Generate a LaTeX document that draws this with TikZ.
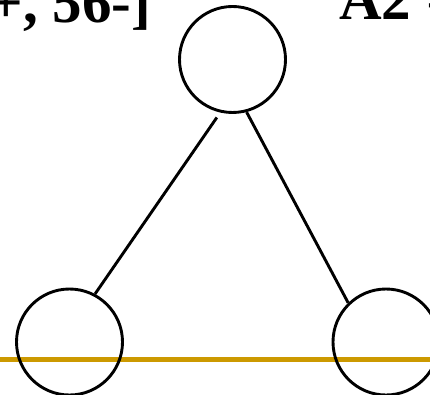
\documentclass[tikz,border=0pt]{standalone}
\usepackage{fontspec}
\setmainfont{Liberation Serif}
\usepackage{xcolor}
\definecolor{gold}{RGB}{204,153,0}

\begin{document}
\begin{tikzpicture}[x=1pt,y=-1pt,
vertex/.style={circle,draw,line width=2.9pt,minimum size=106pt,inner sep=0pt},
edge/.style={line width=2.9pt},
lbl/.style={anchor=base west,inner sep=0pt,font=\bfseries\fontsize{59}{62}\selectfont}]
\useasboundingbox(0,0) rectangle (430,395);
\clip(0,0) rectangle (430,395);
\coordinate(floorL) at (0,359.7);
\coordinate(floorR) at (430,359.7);
\draw[line width=4.5pt,gold](floorL)--(floorR);
\node[vertex](top) at (232.5,59.5){};
\node[vertex](left) at (69.5,342){};
\node[vertex](right) at (386,342){};
\draw[edge,shorten <=6pt](top.-103)--(left.62);
\draw[edge](top.-75)--(right.134);
\node[lbl](lhs) at (-10.5,22.5){+, 56-]};
\node[lbl](rhs) at (339,19.5){A2 =};
\end{tikzpicture}
\end{document}
